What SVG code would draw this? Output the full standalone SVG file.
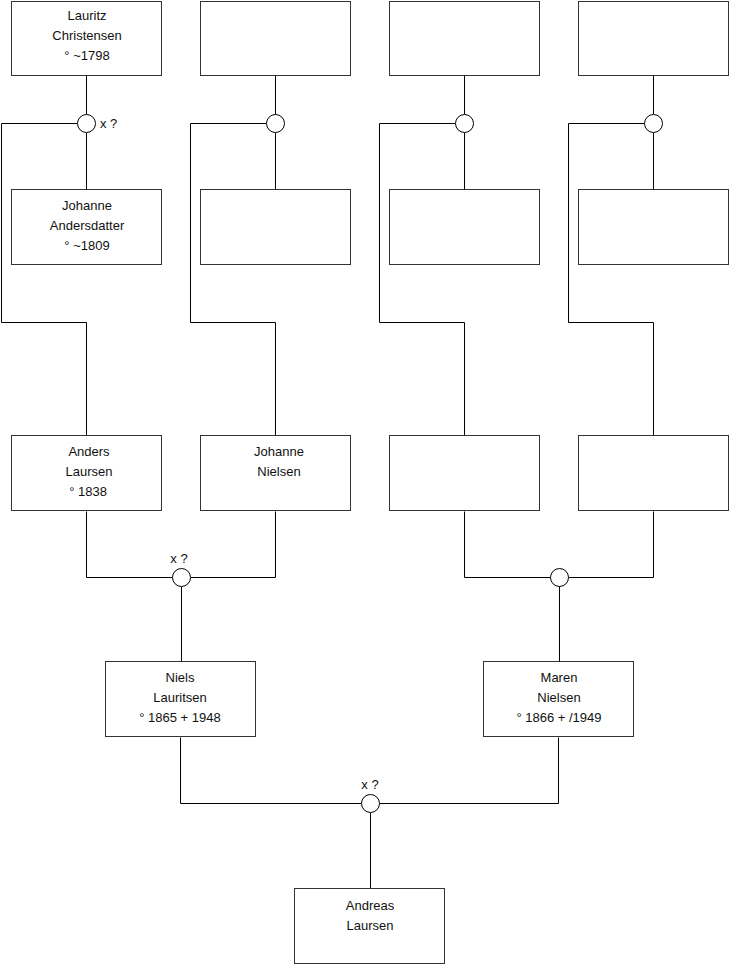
<svg xmlns="http://www.w3.org/2000/svg" width="740" height="975" viewBox="0 0 740 975">
<style>
.box{fill:#fff;stroke:#333;stroke-width:1}
.w{fill:#fff;stroke:#000;stroke-width:1}
.ln{fill:none;stroke:#000;stroke-width:1}
text{font-family:"Liberation Sans",Arial,sans-serif;font-size:13px;fill:#111;text-anchor:middle}
.l{text-anchor:start}
</style>
<rect width="740" height="975" fill="#fff"/>
<g id="connectors">
<path class="ln" d="M86.5 75.5V114.5M86.5 132.5V189.5M77.5 123.5H1.5V322.5H86.5V435.5"/>
<path class="ln" d="M275.5 75.5V114.5M275.5 132.5V189.5M266.5 123.5H190.5V322.5H275.5V435.5"/>
<path class="ln" d="M464.5 75.5V114.5M464.5 132.5V189.5M455.5 123.5H379.5V322.5H464.5V435.5"/>
<path class="ln" d="M653.5 75.5V114.5M653.5 132.5V189.5M644.5 123.5H568.5V322.5H653.5V435.5"/>
<path class="ln" d="M86.5 511.5V577.5H172.5M190.5 577.5H275.5V511.5M181.5 586.5V661.5"/>
<path class="ln" d="M464.5 511.5V577.5H550.5M568.5 577.5H653.5V511.5M559.5 586.5V661.5"/>
<path class="ln" d="M180.5 737.5V803.5H361.5M379.5 803.5H558.5V737.5M370.5 812.5V888.5"/>
</g>
<g id="m1"><circle class="w" cx="86.5" cy="123.5" r="9"/><text class="l" x="100" y="128">x ?</text></g>
<g id="m2"><circle class="w" cx="275.5" cy="123.5" r="9"/></g>
<g id="m3"><circle class="w" cx="464.5" cy="123.5" r="9"/></g>
<g id="m4"><circle class="w" cx="653.5" cy="123.5" r="9"/></g>
<g id="m5"><circle class="w" cx="181.5" cy="577.5" r="9"/><text x="179" y="563">x ?</text></g>
<g id="m6"><circle class="w" cx="559.5" cy="577.5" r="9"/></g>
<g id="m7"><circle class="w" cx="370.5" cy="803.5" r="9"/><text x="370" y="789">x ?</text></g>
<g id="n1"><rect class="box" x="11.5" y="1.5" width="150" height="74"/><text x="87" y="19.5">Lauritz</text><text x="87" y="39.5">Christensen</text><text x="87" y="59.5">° ~1798</text></g>
<g id="n2"><rect class="box" x="200.5" y="1.5" width="150" height="74"/></g>
<g id="n3"><rect class="box" x="389.5" y="1.5" width="150" height="74"/></g>
<g id="n4"><rect class="box" x="578.5" y="1.5" width="150" height="74"/></g>
<g id="n5"><rect class="box" x="11.5" y="189.5" width="150" height="75"/><text x="87" y="209.5">Johanne</text><text x="87" y="229.5">Andersdatter</text><text x="87" y="249.5">° ~1809</text></g>
<g id="n6"><rect class="box" x="200.5" y="189.5" width="150" height="75"/></g>
<g id="n7"><rect class="box" x="389.5" y="189.5" width="150" height="75"/></g>
<g id="n8"><rect class="box" x="578.5" y="189.5" width="150" height="75"/></g>
<g id="n9"><rect class="box" x="11.5" y="435.5" width="150" height="75"/><text x="89" y="455.5">Anders</text><text x="89" y="475.5">Laursen</text><text x="88" y="495.5">° 1838</text></g>
<g id="n10"><rect class="box" x="200.5" y="435.5" width="150" height="75"/><text x="279" y="455.5">Johanne</text><text x="279" y="475.5">Nielsen</text></g>
<g id="n11"><rect class="box" x="389.5" y="435.5" width="150" height="75"/></g>
<g id="n12"><rect class="box" x="578.5" y="435.5" width="150" height="75"/></g>
<g id="n13"><rect class="box" x="105.5" y="661.5" width="150" height="75"/><text x="180" y="681.5">Niels</text><text x="180" y="701.5">Lauritsen</text><text x="180" y="721.5">° 1865 + 1948</text></g>
<g id="n14"><rect class="box" x="483.5" y="661.5" width="150" height="75"/><text x="559" y="681.5">Maren</text><text x="559" y="701.5">Nielsen</text><text x="559" y="721.5">° 1866 + /1949</text></g>
<g id="n15"><rect class="box" x="294.5" y="888.5" width="150" height="75"/><text x="370" y="910">Andreas</text><text x="370" y="930">Laursen</text></g>
</svg>
